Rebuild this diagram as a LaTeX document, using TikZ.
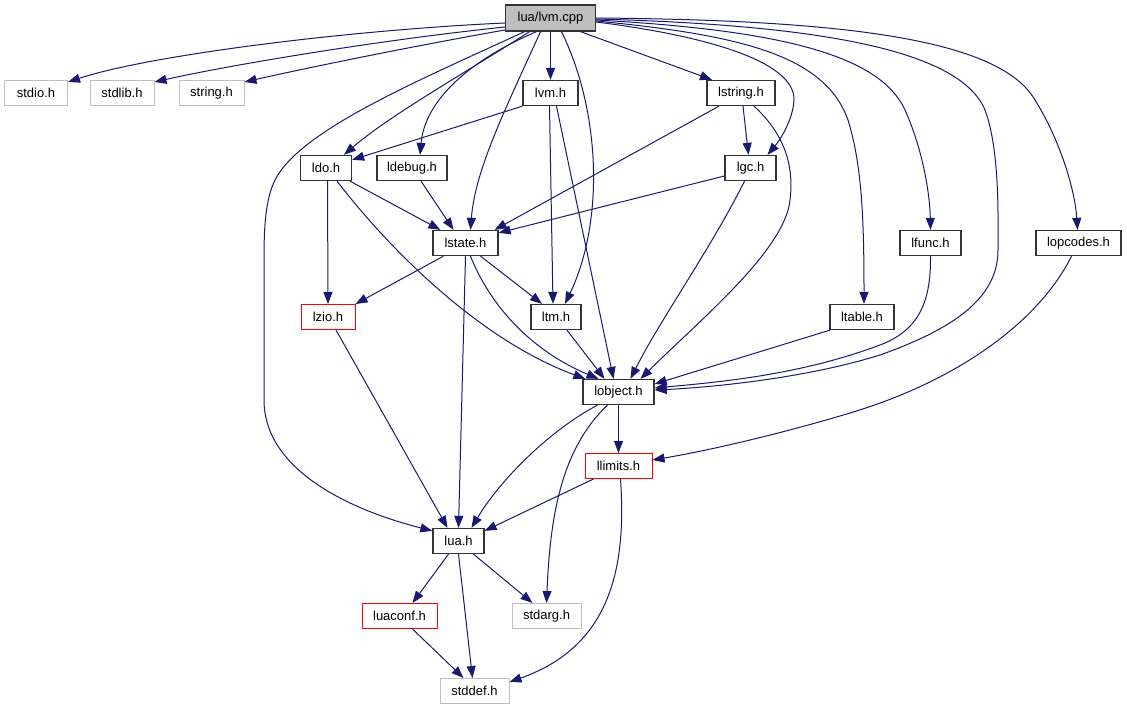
\documentclass[tikz,border=0pt]{standalone}
\usepackage{fontspec}
\setmainfont{Liberation Sans}
\usetikzlibrary{arrows.meta}
\definecolor{edgec}{HTML}{191970}
\definecolor{graybd}{HTML}{BFBFBF}
\definecolor{redbd}{HTML}{FF0000}
\definecolor{darkbd}{HTML}{333333}
\begin{document}
\begin{tikzpicture}[x=1pt,y=-1pt,
  box/.style={draw=darkbd, line width=1.3pt, minimum height=25pt, inner sep=0pt, font=\fontsize{13}{15}\selectfont, text=black},
  gbox/.style={box, draw=graybd, line width=1pt},
  rbox/.style={box, draw=redbd, line width=1pt},
  root/.style={box, fill=graybd},
  dep/.style={draw=edgec, line width=1pt, -{Triangle[length=12pt,width=9pt]}},
]
\useasboundingbox (0,0) rectangle (1127,709);
% nodes
\node[root, minimum width=90pt, minimum height=26pt] (lvmcpp) at (550.5,18) {lua/lvm.cpp};
\node[gbox, minimum width=63pt] (stdio) at (36,93) {stdio.h};
\node[gbox, minimum width=64pt] (stdlib) at (122,93) {stdlib.h};
\node[gbox, minimum width=65pt] (string) at (211.5,93) {string.h};
\node[box, minimum width=55pt] (lvmh) at (550.5,93) {lvm.h};
\node[box, minimum width=68pt] (lstring) at (741,93) {lstring.h};
\node[box, minimum width=51pt] (ldo) at (326,168) {ldo.h};
\node[box, minimum width=70pt] (ldebug) at (412,168) {ldebug.h};
\node[box, minimum width=51pt] (lgc) at (750.5,168) {lgc.h};
\node[box, minimum width=65pt] (lstate) at (465.5,243) {lstate.h};
\node[box, minimum width=61pt] (lfunc) at (930.5,243) {lfunc.h};
\node[box, minimum width=85pt] (lopcodes) at (1078.5,243) {lopcodes.h};
\node[rbox, minimum width=54pt] (lzio) at (328,317) {lzio.h};
\node[box, minimum width=50pt] (ltm) at (556,317) {ltm.h};
\node[box, minimum width=64pt] (ltable) at (862,317) {ltable.h};
\node[box, minimum width=71pt] (lobject) at (618.5,392) {lobject.h};
\node[rbox, minimum width=67pt] (llimits) at (618.5,466) {llimits.h};
\node[box, minimum width=51pt] (lua) at (458.5,541) {lua.h};
\node[rbox, minimum width=75pt] (luaconf) at (399.5,616) {luaconf.h};
\node[gbox, minimum width=69pt] (stdarg) at (546.5,616) {stdarg.h};
\node[gbox, minimum width=69pt] (stddef) at (474.5,691) {stddef.h};
% edges from lvm.cpp
\draw[dep] ([yshift=-5pt]lvmcpp.west) .. controls (350,30) and (150,55) .. ([yshift=-2pt]stdio.north east);
\draw[dep] ([yshift=-9pt]lvmcpp.west) .. controls (380,40) and (230,65) .. ([yshift=-2pt]stdlib.north east);
\draw[dep] ([yshift=-12pt]lvmcpp.west) .. controls (420,45) and (320,65) .. ([yshift=-2pt]string.north east);
\draw[dep] ([xshift=-21pt]lvmcpp.south) .. controls (470,70) and (390,115) .. ([xshift=18pt]ldo.north);
\draw[dep] ([xshift=-14pt]lvmcpp.south) .. controls (470,60) and (425,100) .. ([xshift=8pt]ldebug.north);
\draw[dep] ([xshift=-10pt]lvmcpp.south) .. controls (505,110) and (475,170) .. ([xshift=5pt]lstate.north);
\draw[dep] ([xshift=-26pt]lvmcpp.south) .. controls (420,80) and (300,130) .. (275,180) .. controls (265,200) and (264,230) .. (264,260) -- (264,400) .. controls (264,470) and (350,510) .. ([yshift=-3pt]lua.north west);
\draw[dep] (lvmcpp.south) -- (lvmh.north);
\draw[dep] ([xshift=11pt]lvmcpp.south) .. controls (600,110) and (605,220) .. ([xshift=9pt]ltm.north);
\draw[dep] ([xshift=30pt]lvmcpp.south) -- ([xshift=-29pt]lstring.north);
\draw[dep] ([yshift=-4pt]lvmcpp.east) .. controls (700,35) and (795,60) .. (794,100) .. controls (793,120) and (780,140) .. ([xshift=17pt]lgc.north);
\draw[dep] ([yshift=-3pt]lvmcpp.east) .. controls (740,35) and (825,55) .. (848,120) .. controls (862,165) and (864,220) .. ([xshift=2pt]ltable.north);
\draw[dep] ([yshift=-2pt]lvmcpp.east) .. controls (780,30) and (880,55) .. (905,110) .. controls (925,155) and (930,200) .. (lfunc.north);
\draw[dep] ([yshift=-1pt]lvmcpp.east) .. controls (820,25) and (960,50) .. (985,110) .. controls (1000,150) and (998,220) .. (998,250) .. controls (998,300) and (950,330) .. (880,355) .. controls (800,380) and (700,388) .. ([yshift=2pt]lobject.east);
\draw[dep] (lvmcpp.east) .. controls (850,20) and (1000,40) .. (1035,100) .. controls (1060,140) and (1075,190) .. ([xshift=-1pt]lopcodes.north);
% lvm.h
\draw[dep] (lvmh.south west) -- ([yshift=-5pt]ldo.north east);
\draw[dep] ([xshift=-1pt]lvmh.south) -- ([xshift=-3pt]ltm.north);
\draw[dep] ([xshift=6pt]lvmh.south) -- ([xshift=-5pt]lobject.north);
% lstring.h
\draw[dep] ([xshift=2pt]lstring.south) -- ([xshift=-2pt]lgc.north);
\draw[dep] ([xshift=-22pt]lstring.south) -- ([xshift=-4pt]lstate.north east);
\draw[dep] ([xshift=13pt]lstring.south) .. controls (780,130) and (795,160) .. (790,200) .. controls (785,250) and (700,320) .. ([xshift=22pt]lobject.north);
% lgc.h
\draw[dep] ([yshift=-8pt]lgc.west) -- ([yshift=-3pt]lstate.north east);
\draw[dep] ([xshift=-6pt]lgc.south) .. controls (710,250) and (660,320) .. ([xshift=12pt]lobject.north);
% ldo.h
\draw[dep] ([xshift=24pt]ldo.south) -- ([xshift=8pt]lstate.north west);
\draw[dep] ([xshift=1.5pt]ldo.south) -- (lzio.north);
\draw[dep] ([xshift=11pt]ldo.south) .. controls (390,250) and (480,340) .. ([xshift=3pt]lobject.north west);
% ldebug.h
\draw[dep] ([xshift=9pt]ldebug.south) -- ([xshift=-12pt]lstate.north);
% lstate.h
\draw[dep] ([xshift=-22pt]lstate.south) -- (lzio.north east);
\draw[dep] ([xshift=15pt]lstate.south) -- ([xshift=-14pt]ltm.north);
\draw[dep] ([xshift=5pt]lstate.south) .. controls (490,305) and (530,350) .. ([xshift=-20pt]lobject.north);
\draw[dep] (lstate.south) -- (lua.north);
% lzio, ltm, ltable, lfunc
\draw[dep] ([xshift=8pt]lzio.south) -- ([xshift=-11pt]lua.north);
\draw[dep] ([xshift=11pt]ltm.south) -- ([xshift=-14pt]lobject.north);
\draw[dep] ([xshift=-32pt]ltable.south) -- ([yshift=8pt]lobject.east);
\draw[dep] (lfunc.south) .. controls (931,300) and (920,330) .. (880,345) .. controls (800,375) and (720,382) .. ([yshift=4pt]lobject.east);
% lopcodes
\draw[dep] ([xshift=-7pt]lopcodes.south) .. controls (1040,320) and (960,380) .. (850,413) .. controls (770,437) and (700,452) .. ([yshift=6pt]llimits.east);
% lobject
\draw[dep] ([xshift=-21pt]lobject.south) .. controls (550,430) and (500,480) .. ([xshift=13pt]lua.north);
\draw[dep] (lobject.south) -- (llimits.north);
\draw[dep] ([xshift=-11pt]lobject.south) .. controls (560,450) and (550,520) .. (stdarg.north);
% llimits
\draw[dep] ([xshift=-25pt]llimits.south) -- ([yshift=-3pt]lua.north east);
\draw[dep] ([xshift=2pt]llimits.south) .. controls (626,560) and (615,645) .. ([yshift=-4pt]stddef.north east);
% lua.h
\draw[dep] ([xshift=-10pt]lua.south) -- ([xshift=13pt]luaconf.north);
\draw[dep] ([xshift=15pt]lua.south) -- ([xshift=-14pt]stdarg.north);
\draw[dep] (lua.south) -- ([xshift=-2pt]stddef.north);
\draw[dep] ([xshift=13pt]luaconf.south) -- ([xshift=-11pt]stddef.north);
\end{tikzpicture}
\end{document}
